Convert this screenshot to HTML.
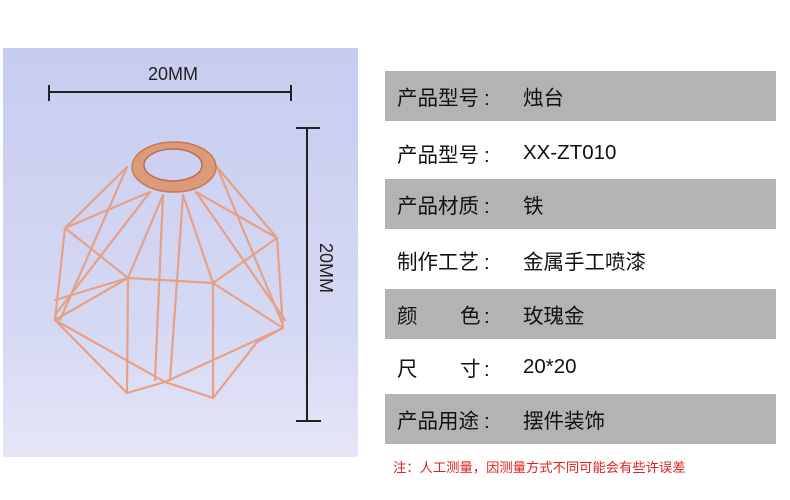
<!DOCTYPE html>
<html><head><meta charset="utf-8"><style>
body{margin:0;width:790px;height:500px;background:#fff;position:relative;overflow:hidden;font-family:"Liberation Sans","Noto Sans CJK SC",sans-serif;}
.panel{position:absolute;left:3px;top:48px;width:355px;height:409px;background:linear-gradient(#c8ccef,#d6d9f3 70%,#e4e6f7);}
.row{position:absolute;left:385px;width:391px;height:50px;font-size:20.5px;color:#111;}
.g{background:#b3b3b3;}
.row span{position:absolute;top:50%;transform:translateY(-50%);white-space:pre;}
.l{left:12px}.v{left:138px}
.row span.c{left:99px;top:calc(50% + 3px)}
.note{position:absolute;left:393px;top:457px;font-size:13.3px;color:#e02020;}
</style></head><body>
<div class="panel"></div>
<svg style="position:absolute;left:0;top:0" width="370" height="470">
<g stroke="#222" stroke-width="2" fill="none">
<line x1="49" y1="92" x2="291" y2="92"/><line x1="49" y1="85" x2="49" y2="101"/><line x1="291" y1="85" x2="291" y2="101"/>
<line x1="307" y1="128" x2="307" y2="421"/><line x1="296" y1="128" x2="320" y2="128"/><line x1="296" y1="421" x2="321" y2="421"/>
</g>
<text x="173" y="80" text-anchor="middle" font-family="Liberation Sans" font-size="18" fill="#222">20MM</text>
<text transform="translate(320,268) rotate(90)" text-anchor="middle" font-family="Liberation Sans" font-size="18" fill="#222">20MM</text>
<g stroke="#e6a088" stroke-width="2.2" fill="none" stroke-linecap="round">
<polyline points="127,167 65,228 55,320 127,393 165,382 213,398 257,342 283,328 277,238 217,167"/>
<polyline points="65,228 128,278 213,283 277,238"/>
<polyline points="55,320 165,382 283,328"/>
<polyline points="55,320 128,278"/><polyline points="283,328 213,283"/>
<line x1="127" y1="167" x2="60" y2="320"/><line x1="217" y1="167" x2="283" y2="325"/>
<line x1="150" y1="192" x2="65" y2="228"/><line x1="196" y1="192" x2="277" y2="238"/>
<line x1="150" y1="192" x2="55" y2="315"/><line x1="196" y1="192" x2="285" y2="320"/>
<line x1="163" y1="195" x2="128" y2="278"/><line x1="183" y1="195" x2="213" y2="283"/>
<line x1="163" y1="195" x2="155" y2="380"/><line x1="183" y1="195" x2="170" y2="380"/>
<line x1="128" y1="278" x2="127" y2="393"/><line x1="213" y1="283" x2="213" y2="398"/>
<line x1="128" y1="278" x2="55" y2="300"/>
<line x1="158" y1="160" x2="173" y2="190"/><line x1="188" y1="160" x2="175" y2="190"/>
</g>
<ellipse cx="174" cy="167" rx="42" ry="25" fill="#dd9a78" stroke="#c07a5c" stroke-width="1.5"/>
<ellipse cx="173" cy="165" rx="29" ry="16" fill="#cdd0f0" stroke="#b87050" stroke-width="1.5"/>
</svg>
<div class="row g" style="top:71px"><span class="l">产品型号</span><span class="c">:</span><span class="v">烛台</span></div>
<div class="row" style="top:128px"><span class="l">产品型号</span><span class="c">:</span><span class="v">XX-ZT010</span></div>
<div class="row g" style="top:179px"><span class="l">产品材质</span><span class="c">:</span><span class="v">铁</span></div>
<div class="row" style="top:235px"><span class="l">制作工艺</span><span class="c">:</span><span class="v">金属手工喷漆</span></div>
<div class="row g" style="top:289px"><span class="l">颜</span><span class="l" style="left:75px">色</span><span class="c">:</span><span class="v">玫瑰金</span></div>
<div class="row" style="top:342px"><span class="l">尺</span><span class="l" style="left:75px">寸</span><span class="c">:</span><span class="v">20*20</span></div>
<div class="row g" style="top:394px"><span class="l">产品用途</span><span class="c">:</span><span class="v">摆件装饰</span></div>
<div class="note">注：人工测量，因测量方式不同可能会有些许误差</div>
</body></html>
